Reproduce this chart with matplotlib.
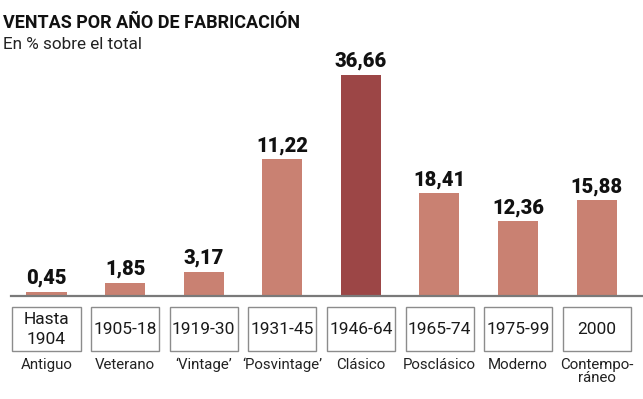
import matplotlib.pyplot as plt
from matplotlib.patches import Rectangle

# data
periods = ['Hasta\n1904', '1905-18', '1919-30', '1931-45', '1946-64', '1965-74', '1975-99', '2000']
eras = ['Antiguo', 'Veterano', '‘Vintage’', '‘Posvintage’', 'Clásico', 'Posclásico', 'Moderno', 'Contempo-\nráneo']
value_labels = ['0,45', '1,85', '3,17', '11,22', '36,66', '18,41', '12,36', '15,88']
# bar heights as drawn in the original (not to scale for every bar)
bar_heights = [0.7, 2.2, 4.0, 22.7, 36.66, 17.0, 12.4, 15.9]
highlight = 4

LIGHT = '#c98172'
DARK = '#9c4646'

W, H = 643, 399
X0, DX = 46.5, 78.6      # pixel centre of first bar, spacing
BASE, PX_UNIT = 296, 6.03  # baseline pixel row, pixels per %

plt.rcParams['font.family'] = ['Roboto', 'DejaVu Sans']

fig = plt.figure(figsize=(W / 100, H / 100), dpi=100)
ax = fig.add_axes([0, 0, 1, 1])
ax.set_xlim(-X0 / DX, (W - X0) / DX)
ax.set_ylim((BASE - H) / PX_UNIT, BASE / PX_UNIT)
ax.axis('off')

def py(pix):
    # pixel row -> data y
    return (BASE - pix) / PX_UNIT

xs = range(len(bar_heights))
colors = [DARK if i == highlight else LIGHT for i in xs]
ax.bar(xs, bar_heights, width=40 / DX, color=colors, zorder=2)

ax.plot([(11 - X0) / DX, (W - X0) / DX], [0, 0], color='#7a7a7a', lw=1.6, zorder=3)

for i in xs:
    ax.text(i, bar_heights[i] + 4 / PX_UNIT, value_labels[i], ha='center', va='bottom',
            fontsize=14.5, fontweight='black', color='#111111')
    ax.add_patch(Rectangle((i - 34 / DX, py(351)), 68 / DX, py(307) - py(351),
                           fill=False, edgecolor='#8c8c8c', lw=1.0))
    ax.text(i, py(329.5), periods[i], ha='center', va='center', fontsize=12.5,
            color='#1a1a1a', linespacing=1.4)
    ax.text(i, py(358), eras[i], ha='center', va='top', fontsize=10.8,
            color='#222222', linespacing=0.95)

fig.text(3 / W, 1 - 14 / H, 'VENTAS POR AÑO DE FABRICACIÓN', ha='left', va='top',
         fontsize=13, fontweight='bold', color='#111111')
fig.text(3 / W, 1 - 37 / H, 'En % sobre el total', ha='left', va='top',
         fontsize=12.3, color='#222222')

fig.savefig('out.png', dpi=100)
